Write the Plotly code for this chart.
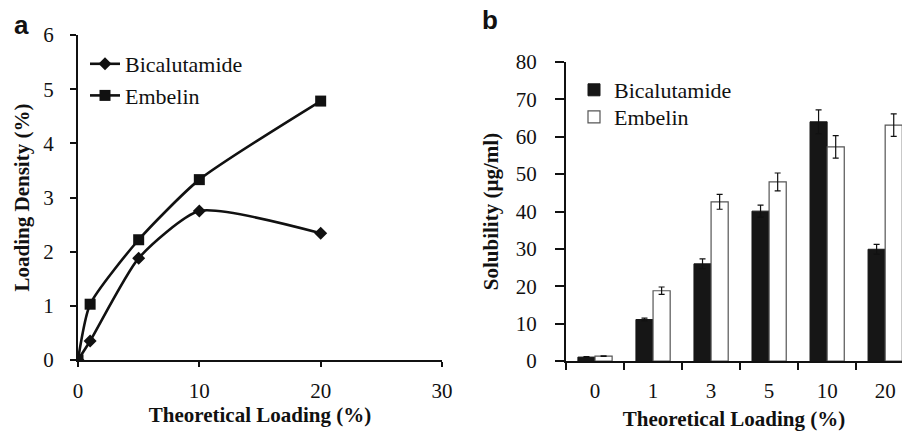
import plotly.graph_objects as go

# Panel a data
theo_x = [0, 1, 5, 10, 20]
bic_density = [0, 0.35, 1.88, 2.75, 2.34]
emb_density = [0, 1.03, 2.22, 3.33, 4.78]

# Panel b data
categories = ["0", "1", "3", "5", "10", "20"]
bic_sol = [1.05, 11.1, 26.0, 40.1, 64.0, 29.9]
bic_err = [0.1, 0.35, 1.3, 1.6, 3.2, 1.3]
emb_sol = [1.3, 18.8, 42.6, 47.9, 57.3, 63.1]
emb_err = [0.1, 1.0, 2.0, 2.4, 3.0, 3.0]

SERIF = "Liberation Serif"
SANS = "Liberation Sans"
BLACK = "#111111"

fig = go.Figure()

fig.add_trace(go.Scatter(
    x=theo_x, y=bic_density, name="Bicalutamide", mode="lines+markers",
    line=dict(color=BLACK, width=2.6, shape="spline", smoothing=0.6),
    marker=dict(symbol="diamond", size=10, color=BLACK),
    xaxis="x", yaxis="y", legend="legend"))
fig.add_trace(go.Scatter(
    x=theo_x, y=emb_density, name="Embelin", mode="lines+markers",
    line=dict(color=BLACK, width=2.6, shape="spline", smoothing=0.6),
    marker=dict(symbol="square", size=11, color=BLACK),
    xaxis="x", yaxis="y", legend="legend"))

fig.add_trace(go.Bar(
    x=categories, y=bic_sol, name="Bicalutamide",
    marker=dict(color="#161616", line=dict(color="#161616", width=1)),
    error_y=dict(type="data", array=bic_err, color=BLACK, thickness=1.2, width=3),
    xaxis="x2", yaxis="y2", legend="legend2"))
fig.add_trace(go.Bar(
    x=categories, y=emb_sol, name="Embelin",
    marker=dict(color="white", line=dict(color="#555555", width=1.2)),
    error_y=dict(type="data", array=emb_err, color=BLACK, thickness=1.2, width=3),
    xaxis="x2", yaxis="y2", legend="legend3"))

tickfont = dict(family=SERIF, size=21, color=BLACK)
titlefont = dict(family=SERIF, size=21, color=BLACK, weight="bold")
legfont = dict(family=SERIF, size=22, color=BLACK)

common = dict(showline=True, linecolor=BLACK, linewidth=2, ticks="outside",
              tickcolor=BLACK, tickwidth=1.5, showgrid=False, zeroline=False,
              automargin=False)

fig.update_layout(
    width=902, height=431,
    margin=dict(l=0, r=0, t=0, b=0),
    font=dict(family=SERIF, size=21, color=BLACK),
    paper_bgcolor="white", plot_bgcolor="white",
    barmode="group", bargap=0.41, bargroupgap=0,
    xaxis=dict(domain=[78/902, 442/902], range=[0, 30], tick0=0, dtick=10,
               ticklen=5, tickfont=tickfont, anchor="y", ticklabelstandoff=6,
               title=dict(text="Theoretical Loading (%)", font=titlefont, standoff=5),
               **common),
    yaxis=dict(domain=[(431-360)/431, (431-35)/431], range=[0, 6], tick0=0, dtick=1,
               ticklen=6, tickfont=tickfont, anchor="x", ticklabelstandoff=12,
               title=dict(text="Loading Density (%)", font=titlefont, standoff=8),
               **common),
    xaxis2=dict(domain=[566/902, 1.0], type="category", range=[-0.5, 5.29],
                tickson="boundaries", ticklen=7, tickfont=tickfont, anchor="y2",
                ticklabelstandoff=10,
                title=dict(text="Theoretical Loading (%)", font=titlefont, standoff=9),
                **common),
    yaxis2=dict(domain=[(431-361)/431, (431-62)/431], range=[0, 80], dtick=10,
                ticklen=9, tickfont=tickfont, anchor="x2", ticklabelstandoff=14,
                title=dict(text="Solubility (µg/ml)", font=titlefont, standoff=11),
                **common),
    legend=dict(x=85/902, y=1-43/431, xanchor="left", yanchor="top",
                font=legfont, bgcolor="rgba(0,0,0,0)",
                itemwidth=30, tracegroupgap=0),
    legend2=dict(x=574/902, y=1-69/431, xanchor="left", yanchor="top",
                 font=legfont, bgcolor="rgba(0,0,0,0)", itemwidth=30),
    legend3=dict(x=574/902, y=1-96/431, xanchor="left", yanchor="top",
                 font=legfont, bgcolor="rgba(0,0,0,0)", itemwidth=30),
    annotations=[
        dict(text="<b>a</b>", x=12/902, y=1-25/431, xref="paper", yref="paper",
             xanchor="left", yanchor="middle", showarrow=False,
             font=dict(family=SANS, size=26, color=BLACK)),
        dict(text="<b>b</b>", x=480/902, y=1-20/431, xref="paper", yref="paper",
             xanchor="left", yanchor="middle", showarrow=False,
             font=dict(family=SANS, size=26, color=BLACK)),
    ],
    showlegend=True,
)

fig.write_html("out.html", config={"displayModeBar": False},
               post_script="document.body.style.margin='0';")
